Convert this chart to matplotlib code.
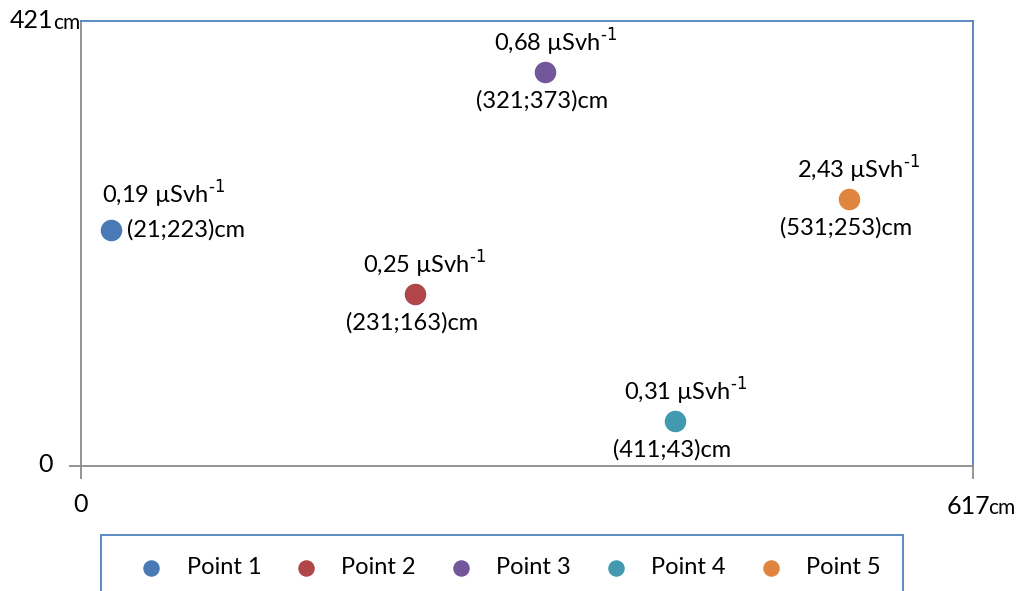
import matplotlib
matplotlib.use('Agg')
import matplotlib.pyplot as plt
from matplotlib.patches import Rectangle

plt.rcParams['font.family'] = ['Lato', 'DejaVu Sans']
plt.rcParams['axes.unicode_minus'] = False

# data: positions in cm and dose rate in µSv/h
names = ['Point 1', 'Point 2', 'Point 3', 'Point 4', 'Point 5']
x_cm = [21, 231, 321, 411, 531]
y_cm = [223, 163, 373, 43, 253]
dose = ['0,19', '0,25', '0,68', '0,31', '2,43']
colors = ['#4a7ab5', '#b0464a', '#72589a', '#4399b0', '#e0853f']
x_max = 617
y_max = 421

fig = plt.figure(figsize=(10.19, 5.91), dpi=100)
ax = fig.add_axes([81/1019, 125/591, 892/1019, 445/591])

for i in range(len(names)):
    ax.scatter(x_cm[i], y_cm[i], s=210, color=colors[i], label=names[i], zorder=3)
    dose_txt = dose[i] + r' µSvh$^{\text{-1}}$'
    coord = '(%d;%d)cm' % (x_cm[i], y_cm[i])
    if i == 0:
        # first point: dose label above-left, coordinates to the right
        ax.annotate(dose_txt, (x_cm[i], y_cm[i]), xytext=(-9, 36), textcoords='offset pixels',
                    ha='left', va='center', fontsize=17)
        ax.annotate(coord, (x_cm[i], y_cm[i]), xytext=(16, 0), textcoords='offset pixels',
                    ha='left', va='center', fontsize=17)
    else:
        ax.annotate(dose_txt, (x_cm[i], y_cm[i]), xytext=(10, 29), textcoords='offset pixels',
                    ha='center', va='center', fontsize=17)
        ax.annotate(coord, (x_cm[i], y_cm[i]), xytext=(-3, -29), textcoords='offset pixels',
                    ha='center', va='center', fontsize=17)

ax.set_xlim(0, x_max)
ax.set_ylim(0, y_max)

for s in ['top', 'right']:
    ax.spines[s].set_color('#4f81bd')
    ax.spines[s].set_linewidth(1.3)
for s in ['left', 'bottom']:
    ax.spines[s].set_color('#8c8c8c')
    ax.spines[s].set_linewidth(1.3)

ax.set_xticks([0, x_max])
ax.set_yticks([0])
ax.set_xticklabels(['', ''])
ax.set_yticklabels([''])
ax.tick_params(length=9, width=1.3, color='#8c8c8c', direction='out')

# axis end labels with small "cm"
ax.annotate('cm', (0, y_max), xytext=(-1, -2), textcoords='offset pixels',
            ha='right', va='center', fontsize=15)
ax.annotate('421', (0, y_max), xytext=(-28, 0), textcoords='offset pixels',
            ha='right', va='center', fontsize=18)
ax.annotate('0', (0, 0), xytext=(-28, 1), textcoords='offset pixels',
            ha='right', va='center', fontsize=18)
ax.annotate('0', (0, 0), xytext=(0, -38), textcoords='offset pixels',
            ha='center', va='center', fontsize=18)
ax.annotate('617', (x_max, 0), xytext=(-5, -40), textcoords='offset pixels',
            ha='center', va='center', fontsize=18)
ax.annotate('cm', (x_max, 0), xytext=(15, -42), textcoords='offset pixels',
            ha='left', va='center', fontsize=15)

# legend box running off the bottom of the figure
fig.patches.append(Rectangle((101/1019, -0.1), 802/1019, 0.1 + 56/591,
                             transform=fig.transFigure, fill=False,
                             edgecolor='#4f81bd', linewidth=1.3))
handles, labels = ax.get_legend_handles_labels()
leg = fig.legend(handles, labels, loc='center', bbox_to_anchor=(510/1019, 23/591),
                 ncol=5, frameon=False, fontsize=17, markerscale=0.75,
                 handlelength=1.0, handletextpad=1.0, columnspacing=1.4)

fig.savefig('out.png', dpi=100)
